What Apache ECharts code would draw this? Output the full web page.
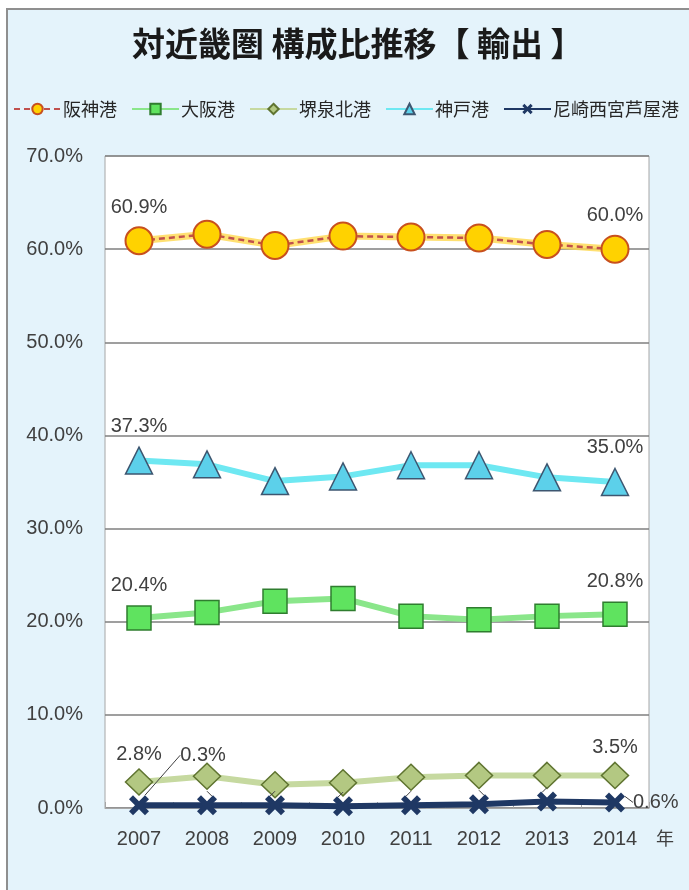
<!DOCTYPE html>
<html>
<head>
<meta charset="utf-8">
<script src="https://cdn.jsdelivr.net/npm/echarts@6/dist/echarts.min.js"></script>
<style>
html,body{margin:0;padding:0;background:#ffffff;overflow:hidden;}
#frame{position:absolute;left:6px;top:8px;width:720px;height:920px;border:2px solid #8f8f8f;background:#e4f3fb;}
#chart{position:absolute;left:0;top:0;width:689px;height:890px;}
</style>
</head>
<body>
<div id="frame"></div>
<div id="chart"></div>
<script>
var years = ['2007','2008','2009','2010','2011','2012','2013','2014'];
var hanshin = [60.9, 61.6, 60.4, 61.4, 61.3, 61.2, 60.5, 60.0];
var osaka = [20.4, 21.0, 22.2, 22.5, 20.6, 20.2, 20.6, 20.8];
var sakai = [2.8, 3.4, 2.5, 2.7, 3.3, 3.5, 3.5, 3.5];
var kobe = [37.3, 36.9, 35.1, 35.6, 36.8, 36.8, 35.5, 35.0];
var amagasaki = [0.3, 0.3, 0.3, 0.2, 0.3, 0.4, 0.7, 0.6];
var yTicks = [0, 10, 20, 30, 40, 50, 60, 70];
var names = ['阪神港','大阪港','堺泉北港','神戸港','尼崎西宮芦屋港'];

var numFont = 'Liberation Sans';
var last = years.length - 1;
function endLabel(p){
  return (p.dataIndex === 0 || p.dataIndex === last) ? Number(p.value).toFixed(1) + '%' : '';
}
function lbl(dist){
  return {show:true, position:'top', distance:dist, formatter:endLabel,
          color:'#404040', fontSize:20, fontFamily:numFont};
}
var xSym = 'path://M0,2 L2,0 L5,3 L8,0 L10,2 L7,5 L10,8 L8,10 L5,7 L2,10 L0,8 L3,5 Z';

var amaData = amagasaki.map(function(v, i){
  if (i === last) return {value:v, label:{position:'right', distance:8}};
  return v;
});

var chart = echarts.init(document.getElementById('chart'));
chart.setOption({
  backgroundColor:'transparent',
  animation:false,
  title:{
    text:'対近畿圏 構成比推移【 輸出 】',
    left:127, top:22,
    textStyle:{fontFamily:'Noto Sans CJK JP', fontSize:33, fontWeight:'bold', color:'#1a1a1a'}
  },
  legend:{
    data:names, left:13, top:100, width:676, padding:0, itemWidth:47, itemHeight:13, itemGap:14,
    textStyle:{fontFamily:'Noto Sans CJK JP', fontSize:18, color:'#262626', padding:[0,0,0,-3]}
  },
  grid:{left:105, right:40, top:156, bottom:82, show:true, backgroundColor:'#ffffff', borderColor:'#a6a6a6', borderWidth:1},
  xAxis:{
    type:'category', data:years, boundaryGap:true,
    name:'年', nameLocation:'end', nameGap:7,
    nameTextStyle:{fontFamily:'Noto Sans CJK JP', fontSize:18, color:'#404040', verticalAlign:'top', padding:[21,0,0,0]},
    axisLine:{show:true, lineStyle:{color:'#a6a6a6'}},
    axisTick:{show:true, inside:true, length:6, lineStyle:{color:'#a6a6a6'}},
    axisLabel:{fontFamily:numFont, fontSize:20, color:'#404040', margin:21}
  },
  yAxis:{
    type:'value', min:yTicks[0], max:yTicks[yTicks.length-1], interval:10,
    axisLine:{show:false}, axisTick:{show:false},
    axisLabel:{fontFamily:numFont, fontSize:20, color:'#404040', margin:22,
      formatter:function(v){return v.toFixed(1)+'%';}},
    splitLine:{show:true, lineStyle:{color:'#7f7f7f', width:1.5}}
  },
  series:[
    {name:names[0], type:'line', data:hanshin, z:6,
     symbol:'circle', symbolSize:27,
     itemStyle:{color:'#ffd200', borderColor:'#c8501e', borderWidth:2},
     lineStyle:{color:'#c0504d', width:2.5, type:[6,4]},
     label:lbl(9)},
    {name:names[1], type:'line', data:osaka, z:4,
     symbol:'rect', symbolSize:24,
     itemStyle:{color:'#5fe35f', borderColor:'#2f7d2f', borderWidth:1.5},
     lineStyle:{color:'#8ae68a', width:6},
     label:lbl(10)},
    {name:names[2], type:'line', data:sakai, z:4,
     symbol:'diamond', symbolSize:[27,26],
     itemStyle:{color:'#b3c882', borderColor:'#5f7430', borderWidth:1.5},
     lineStyle:{color:'#c6d9a0', width:6},
     label:lbl(4)},
    {name:names[3], type:'line', data:kobe, z:4,
     symbol:'triangle', symbolSize:[27,27],
     itemStyle:{color:'#5cd0ea', borderColor:'#3d5670', borderWidth:1.5},
     lineStyle:{color:'#6ee8f2', width:6},
     label:lbl(10)},
    {name:names[4], type:'line', data:amaData, z:5,
     symbol:xSym, symbolSize:20,
     itemStyle:{color:'#1f3864'},
     lineStyle:{color:'#1f3864', width:6},
     label:lbl(4),
     labelLine:{show:true, lineStyle:{color:'#404040', width:1}},
     labelLayout:function(p){ if (p.dataIndex === 0) return {dx:64, dy:-26}; return {}; }},
    {name:names[0], type:'line', data:hanshin, z:3, silent:true,
     symbol:'none', lineStyle:{color:'#ffd84d', width:7, opacity:0.8}}
  ]
});
</script>
</body>
</html>
